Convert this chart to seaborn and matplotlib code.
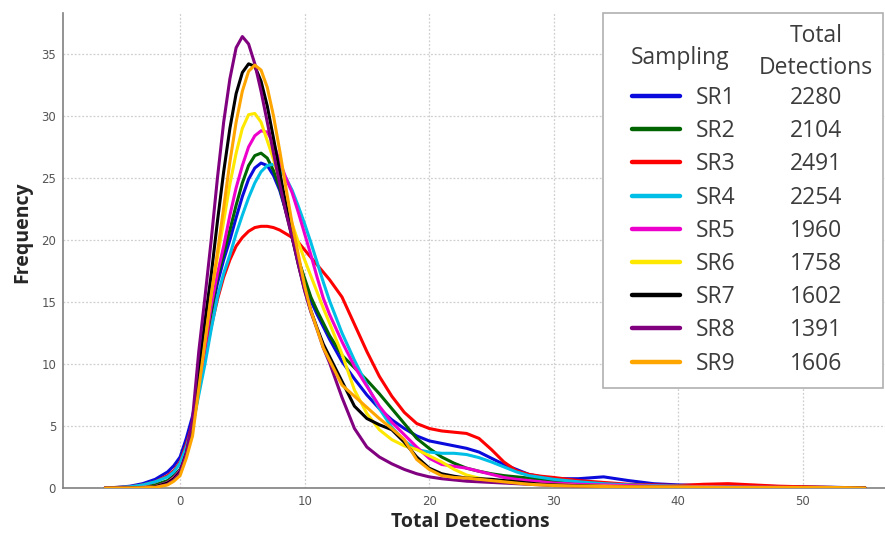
import matplotlib.pyplot as plt
import pandas as pd
import seaborn as sns
from matplotlib.lines import Line2D
from matplotlib.patches import Rectangle

# values
x_vals = [-6, -5, -4, -3, -2, -1, -0.5,
          0, 0.5, 1, 1.5, 2, 2.5, 3, 3.5, 4, 4.5, 5, 5.5, 6, 6.5, 7, 7.5, 8, 8.5,
          9, 9.5, 10, 10.5, 11, 11.5, 12,
          13, 14, 15, 16, 17, 18, 19, 20, 21, 22, 23, 24, 25, 26, 27, 28, 29, 30,
          32, 34, 36, 38, 40, 42, 44, 46, 48, 50, 52, 55]

sr1 = [0.0, 0.05, 0.15, 0.35, 0.7, 1.3, 1.8,
       2.5, 4.0, 5.8, 8.3, 11.0, 14.0, 16.5, 18.4, 20.0, 21.8, 23.5, 24.9, 25.8, 26.2, 26.0, 25.2, 24.0, 22.3,
       20.4, 18.4, 16.7, 15.1, 14.0, 13.0, 12.0,
       10.2, 8.8, 7.5, 6.4, 5.5, 4.8, 4.2, 3.8, 3.6, 3.4, 3.2, 2.9, 2.4, 1.9, 1.5, 1.1, 0.9, 0.75,
       0.75, 0.9, 0.6, 0.35, 0.25, 0.2, 0.2, 0.15, 0.12, 0.1, 0.07, 0.0]
sr2 = [0.0, 0.02, 0.05, 0.12, 0.25, 0.6, 1.0,
       1.5, 2.9, 4.8, 7.9, 11.0, 14.2, 17.0, 18.9, 20.8, 22.8, 24.6, 26.0, 26.8, 27.0, 26.6, 25.6, 24.2, 22.3,
       20.2, 18.4, 16.9, 15.4, 14.3, 13.3, 12.3,
       10.7, 9.7, 8.7, 7.6, 6.4, 5.2, 4.0, 3.2, 2.5, 2.0, 1.6, 1.35, 1.15, 1.0, 0.9, 0.8, 0.7, 0.55,
       0.4, 0.3, 0.2, 0.15, 0.1, 0.08, 0.06, 0.05, 0.04, 0.03, 0.02, 0.0]
sr3 = [0.02, 0.05, 0.1, 0.25, 0.5, 1.0, 1.4,
       2.1, 3.5, 5.2, 7.8, 10.5, 13.0, 15.2, 17.0, 18.4, 19.5, 20.2, 20.7, 21.0, 21.1, 21.1, 21.0, 20.8, 20.5,
       20.2, 19.8, 19.2, 18.6, 18.0, 17.4, 16.8,
       15.4, 13.2, 11.0, 9.0, 7.4, 6.1, 5.2, 4.8, 4.6, 4.5, 4.4, 4.0, 3.1, 2.1, 1.4, 1.1, 0.95, 0.85,
       0.6, 0.45, 0.3, 0.25, 0.2, 0.3, 0.35, 0.25, 0.15, 0.1, 0.05, 0.0]
sr4 = [0.0, 0.05, 0.1, 0.25, 0.5, 0.9, 1.3,
       2.0, 3.3, 5.0, 7.5, 10.0, 12.8, 15.4, 17.3, 18.8, 20.5, 22.0, 23.4, 24.6, 25.5, 26.0, 26.1, 25.7, 25.0,
       24.0, 22.7, 21.3, 19.8, 18.2, 16.6, 15.1,
       12.5, 10.3, 8.3, 6.4, 4.9, 3.8, 3.1, 2.9, 2.8, 2.8, 2.7, 2.45, 2.1, 1.7, 1.3, 1.0, 0.85, 0.7,
       0.5, 0.35, 0.25, 0.2, 0.15, 0.1, 0.08, 0.06, 0.05, 0.04, 0.02, 0.0]
sr5 = [0.0, 0.0, 0.02, 0.05, 0.12, 0.45, 0.85,
       1.4, 2.8, 4.8, 8.3, 11.5, 14.7, 17.3, 19.5, 22.0, 24.2, 26.0, 27.5, 28.4, 28.8, 28.7, 27.8, 26.3, 25.0,
       23.8, 22.2, 20.5, 18.8, 17.0, 15.3, 14.0,
       11.8, 9.8, 8.2, 6.6, 5.3, 4.3, 3.3, 2.4, 1.9, 1.75, 1.6, 1.35, 1.1, 0.85, 0.7, 0.6, 0.5, 0.4,
       0.3, 0.25, 0.2, 0.15, 0.12, 0.1, 0.08, 0.06, 0.05, 0.04, 0.02, 0.0]
sr6 = [0.0, 0.0, 0.02, 0.05, 0.1, 0.35, 0.75,
       1.2, 2.6, 4.6, 8.5, 12.0, 15.7, 18.6, 21.5, 24.5, 27.0, 29.0, 30.1, 30.2, 29.5, 28.0, 26.5, 24.8, 23.0,
       21.3, 19.8, 18.4, 17.1, 15.8, 14.5, 13.3,
       10.8, 7.9, 6.0, 4.7, 3.9, 3.4, 3.1, 2.6, 2.1, 1.5, 1.05, 0.8, 0.6, 0.5, 0.4, 0.35, 0.3, 0.25,
       0.2, 0.15, 0.12, 0.1, 0.08, 0.06, 0.05, 0.04, 0.03, 0.02, 0.01, 0.0]
sr7 = [0.0, 0.0, 0.0, 0.02, 0.1, 0.4, 0.75,
       1.3, 2.8, 5.0, 9.5, 13.5, 17.2, 21.5, 25.5, 29.0, 31.8, 33.5, 34.2, 34.0, 32.8, 30.8, 28.2, 25.5, 22.8,
       20.2, 18.0, 16.0, 14.3, 12.9, 11.6, 10.6,
       8.6, 6.6, 5.6, 5.1, 4.7, 3.7, 2.5, 1.6, 1.15, 0.95, 0.8, 0.75, 0.7, 0.6, 0.5, 0.4, 0.3, 0.25,
       0.18, 0.12, 0.08, 0.06, 0.05, 0.04, 0.03, 0.02, 0.01, 0.01, 0.0, 0.0]
sr8 = [0.0, 0.0, 0.0, 0.0, 0.05, 0.3, 0.65,
       1.2, 2.8, 5.6, 11.0, 15.4, 20.0, 25.0, 29.5, 33.0, 35.5, 36.4, 35.8, 34.2, 32.0, 29.5, 27.0, 24.5, 22.2,
       20.2, 18.0, 15.9, 14.2, 12.8, 11.3, 10.1,
       7.3, 4.8, 3.3, 2.5, 1.95, 1.5, 1.15, 0.9, 0.75, 0.65, 0.55, 0.5, 0.45, 0.4, 0.35, 0.3, 0.25, 0.2,
       0.15, 0.1, 0.08, 0.06, 0.05, 0.04, 0.03, 0.02, 0.01, 0.0, 0.0, 0.0]
sr9 = [0.0, 0.0, 0.0, 0.02, 0.05, 0.25, 0.55,
       1.0, 2.4, 4.2, 8.0, 11.8, 15.6, 19.0, 22.6, 26.3, 29.5, 32.0, 33.6, 34.1, 33.7, 32.3, 30.0, 27.2, 24.2,
       21.3, 18.8, 16.3, 14.3, 12.8, 11.3, 10.3,
       8.3, 7.4, 6.5, 5.6, 4.8, 3.9, 2.3, 1.5, 1.0, 0.85, 0.8, 0.7, 0.6, 0.5, 0.4, 0.3, 0.25, 0.2,
       0.15, 0.12, 0.1, 0.08, 0.07, 0.06, 0.05, 0.05, 0.05, 0.05, 0.05, 0.0]

samplings = ["SR1", "SR2", "SR3", "SR4", "SR5", "SR6", "SR7", "SR8", "SR9"]
totals = [2280, 2104, 2491, 2254, 1960, 1758, 1602, 1391, 1606]
colors = ["#0a0adc", "#006400", "#ff0000", "#00bfe6", "#ee00cc",
          "#ffe800", "#000000", "#800080", "#ffa500"]

curves = [sr1, sr2, sr3, sr4, sr5, sr6, sr7, sr8, sr9]
df = pd.DataFrame({
    "Total Detections": x_vals * len(curves),
    "Frequency": [v for c in curves for v in c],
    "Sampling": [s for s in samplings for _ in x_vals],
})

sns.set_style("white")
plt.rcParams["font.family"] = ["DejaVu Sans"]

fig = plt.figure(figsize=(8.85, 5.39), dpi=100)
ax = fig.add_axes([0.0712, 0.0946, 0.9288, 0.8813])

sns.lineplot(
    data=df, x="Total Detections", y="Frequency", hue="Sampling",
    palette=dict(zip(samplings, colors)), linewidth=2.2,
    estimator=None, sort=False, legend=False, ax=ax, zorder=3,
)

ax.set_xlim(-9.4, 56.6)
ax.set_ylim(0, 38.3)
ax.set_xticks([0, 10, 20, 30, 40, 50])
ax.set_yticks([0, 5, 10, 15, 20, 25, 30, 35])
ax.grid(True, linestyle=(0, (1.5, 1.5)), color="#cfcfcf", linewidth=0.9)
ax.tick_params(length=0, pad=5, labelsize=8.5, labelcolor="#555555")
for side in ["top", "right"]:
    ax.spines[side].set_visible(False)
for side in ["left", "bottom"]:
    ax.spines[side].set_color("#808080")
    ax.spines[side].set_linewidth(1.2)

ax.set_xlabel("Total Detections", fontsize=14, fontweight="bold", family="Open Sans")
ax.set_ylabel("Frequency", fontsize=14, fontweight="bold", family="Open Sans")
ax.xaxis.set_label_coords(0.495, -0.05)
ax.yaxis.set_label_coords(-0.038, 0.538)

# legend box: handles + names from ax.legend, totals and headers as text
box = Rectangle((0.657, 0.2105), 0.3406, 0.7895, transform=ax.transAxes,
                facecolor="white", edgecolor="#b0b0b0", linewidth=1.2,
                clip_on=False, zorder=5)
ax.add_patch(box)

txt_color = "#3c3c3c"
leg_size = 16.5
handles = [Line2D([], [], color=c, linewidth=3.2) for c in colors]
W, H = fig.bbox.width, fig.bbox.height
ax_h = ax.bbox.height


def make_legend(spacing, anchor_y):
    lg = ax.legend(
        handles, samplings, loc="upper left", bbox_to_anchor=(0.692, anchor_y),
        frameon=False, handlelength=2.1, handletextpad=0.7,
        labelspacing=spacing, borderpad=0, borderaxespad=0,
        prop={"family": "Open Sans", "size": leg_size},
    )
    lg.set_zorder(6)
    for t in lg.get_texts():
        t.set_color(txt_color)
    fig.canvas.draw()
    return lg


def row_centers(lg):
    r = fig.canvas.get_renderer()
    out = []
    for t in lg.get_texts():
        bb = t.get_window_extent(r)
        out.append((bb.y0 + bb.y1) / 2)
    return out


# tune row spacing and position so rows match the reference (98 px .. 363 px)
spacing, anchor_y = 0.5, 0.86
px_per_pt = fig.dpi / 72
for _ in range(3):
    leg = make_legend(spacing, anchor_y)
    ys = row_centers(leg)
    step = (ys[0] - ys[-1]) / 8
    spacing += (33.2 - step) / (leg_size * px_per_pt)
    leg.remove()
    leg = make_legend(spacing, anchor_y)
    ys = row_centers(leg)
    anchor_y += ((H - 98) - ys[0]) / ax_h
    leg.remove()
leg = make_legend(spacing, anchor_y)

for yc, n in zip(row_centers(leg), totals):
    fig.text(816 / W, yc / H, str(n), ha="center", va="center",
             fontsize=leg_size, family="Open Sans", color=txt_color, zorder=7)

fig.text(680 / W, 1 - 58 / H, "Sampling", ha="center", va="center",
         fontsize=leg_size, family="Open Sans", color=txt_color, zorder=7)
fig.text(816 / W, 1 - 36 / H, "Total", ha="center", va="center",
         fontsize=leg_size, family="Open Sans", color=txt_color, zorder=7)
fig.text(816 / W, 1 - 68 / H, "Detections", ha="center", va="center",
         fontsize=leg_size, family="Open Sans", color=txt_color, zorder=7)

fig.savefig("out.png", dpi=100)
